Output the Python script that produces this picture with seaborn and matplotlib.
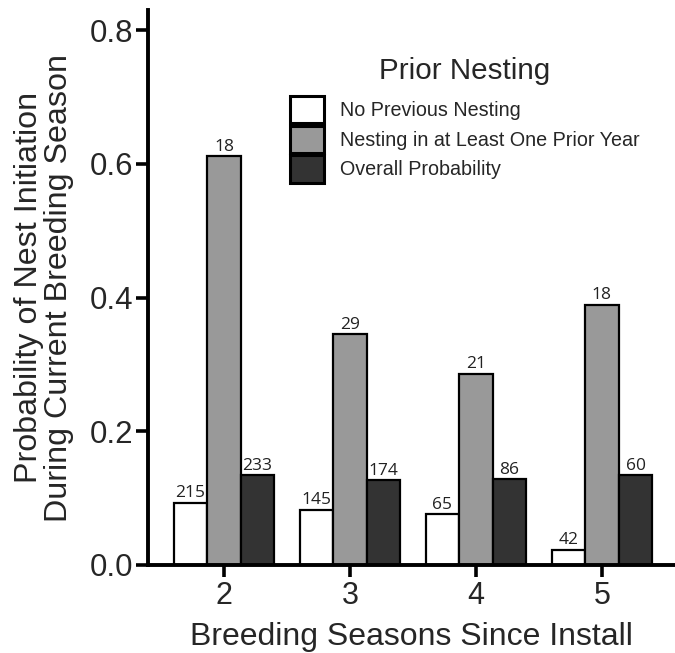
import matplotlib
matplotlib.use("Agg")
import matplotlib.pyplot as plt
import seaborn as sns
import pandas as pd

seasons = ["2", "3", "4", "5"]
groups = ["No Previous Nesting", "Nesting in at Least One Prior Year", "Overall Probability"]
prob_no_prev = [0.093, 0.083, 0.076, 0.023]
prob_prior = [0.611, 0.345, 0.286, 0.389]
prob_overall = [0.134, 0.127, 0.128, 0.134]
n_no_prev = [215, 145, 65, 42]
n_prior = [18, 29, 21, 18]
n_overall = [233, 174, 86, 60]

rows = []
for g, probs, ns in zip(groups, [prob_no_prev, prob_prior, prob_overall], [n_no_prev, n_prior, n_overall]):
    for s, p, n in zip(seasons, probs, ns):
        rows.append({"season": s, "group": g, "prob": p, "n": n})
df = pd.DataFrame(rows)

sns.set_theme(style="ticks")
plt.rcParams["font.family"] = ["Liberation Sans", "DejaVu Sans"]

fig = plt.figure(figsize=(6.75, 6.53), dpi=100)
ax = fig.add_axes([147.7 / 675, 88 / 653, 1 - 147.7 / 675, (565 - 10) / 653])

palette = {groups[0]: "#ffffff", groups[1]: "#999999", groups[2]: "#333333"}
sns.barplot(data=df, x="season", y="prob", hue="group", hue_order=groups, order=seasons,
            palette=palette, edgecolor="black", linewidth=1.6, width=0.8, ax=ax, legend=True)

# value labels
for container, g in zip(ax.containers, groups):
    ns = df[df.group == g].set_index("season").loc[seasons, "n"].tolist()
    ax.bar_label(container, labels=[str(n) for n in ns], padding=1, fontsize=12.5,
                 family=["Open Sans", "DejaVu Sans"], color="#222222")

ax.set_xlim(-0.605, 3.58)
ax.set_ylim(0, 0.830)
ax.set_yticks([0.0, 0.2, 0.4, 0.6, 0.8])
ax.set_yticklabels(["0.0", "0.2", "0.4", "0.6", "0.8"])
ax.tick_params(axis="y", labelsize=22.5, length=8.6, width=2.6, color="black", pad=2)
ax.tick_params(axis="x", labelsize=22, length=8.6, width=2.6, color="black", pad=3)
for sp in ["top", "right"]:
    ax.spines[sp].set_visible(False)
for sp in ["left", "bottom"]:
    ax.spines[sp].set_linewidth(2.8)
    ax.spines[sp].set_color("black")

ax.set_xlabel("Breeding Seasons Since Install", fontsize=23, labelpad=8)
ax.set_ylabel("Probability of Nest Initiation\nDuring Current Breeding Season", fontsize=23.2,
              labelpad=11, linespacing=1.0)

leg = ax.legend(title="Prior Nesting", loc="upper left", bbox_to_anchor=(290 / 675, 1 - 57 / 653),
                bbox_transform=fig.transFigure, frameon=False, fontsize=14.2, title_fontsize=21.3,
                handlelength=1.72, handleheight=1.75, labelspacing=0.12, handletextpad=0.8,
                borderpad=0, borderaxespad=0)
leg._legend_box.sep = 8
for h in leg.legend_handles:
    h.set_edgecolor("black")
    h.set_linewidth(2.2)

fig.savefig("out.png", dpi=100, facecolor="white")
